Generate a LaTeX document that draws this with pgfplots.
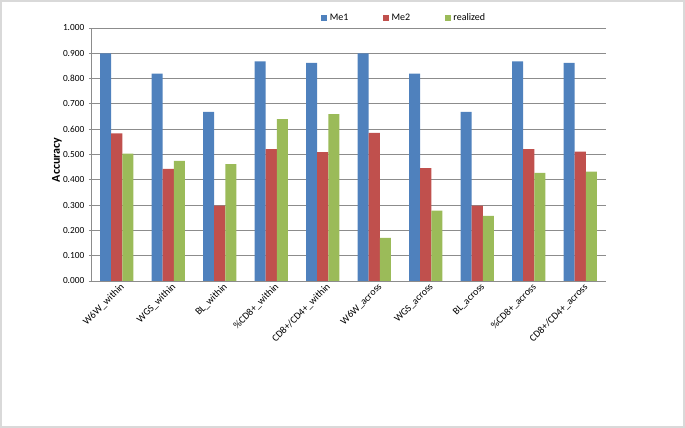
\documentclass[border=0pt]{standalone}
\usepackage{fontspec}
\setmainfont{Carlito}
\usepackage{pgfplots}
\usepackage{pgfplotstable}
\pgfplotsset{compat=1.18}

\definecolor{meone}{HTML}{4F81BD}
\definecolor{metwo}{HTML}{C0504D}
\definecolor{realc}{HTML}{9BBB59}
\definecolor{gridc}{HTML}{8C8C8C}
\definecolor{framec}{HTML}{D9D9D9}

% accuracy per scenario
\pgfplotstableread{
idx me1   me2   real
0   0.900 0.583 0.503
1   0.820 0.443 0.475
2   0.668 0.298 0.462
3   0.868 0.521 0.640
4   0.862 0.509 0.660
5   0.900 0.585 0.170
6   0.820 0.446 0.278
7   0.668 0.298 0.257
8   0.868 0.521 0.427
9   0.862 0.511 0.432
}\acc

\begin{document}
\begin{tikzpicture}
\begin{axis}[
    scale only axis,
    width=386.25pt,
    height=189.75pt,
    ybar,
    bar width=0.215,
    xmin=-0.5, xmax=9.5,
    ymin=0, ymax=1,
    xtick=data,
    xticklabels={W6W\_within, WGS\_within, BL\_within, \%CD8+\_within, CD8+/CD4+\_within,
                 W6W\_across, WGS\_across, BL\_across, \%CD8+\_across, CD8+/CD4+\_across},
    xticklabel style={rotate=45, anchor=east, font=\fontsize{7.5}{8}\selectfont, inner sep=1pt,
                      xshift=3pt, yshift=-4.5pt},
    x tick style={draw=none},
    ytick distance=0.1,
    yticklabel style={font=\fontsize{7}{8}\selectfont, /pgf/number format/.cd, fixed, fixed zerofill, precision=3, assume math mode=true},
    y tick style={gridc, line width=0.6pt},
    tick align=outside,
    major tick length=3pt,
    ymajorgrids,
    grid style={gridc, line width=0.6pt},
    axis lines=left,
    axis line style={-, gridc, line width=0.6pt},
    ylabel={Accuracy},
    ylabel style={font=\fontsize{9}{10}\selectfont\bfseries, at={(axis description cs:-0.066,0.478)}, anchor=center},
    legend columns=3,
    legend style={draw=none, fill=none, at={(0.439,1.04)}, anchor=west, font=\fontsize{7.5}{8}\selectfont,
                  /tikz/every even column/.append style={column sep=24pt}},
    legend image code/.code={\fill[#1] (0pt,-2.2pt) rectangle (4.4pt,2.2pt);},
]
\addplot[fill=meone, draw=none, bar shift=-0.215] table[x=idx, y=me1] {\acc};
\addplot[fill=metwo, draw=none, bar shift=0] table[x=idx, y=me2] {\acc};
\addplot[fill=realc, draw=none, bar shift=0.215] table[x=idx, y=real] {\acc};
\legend{Me1, Me2, realized}
\end{axis}
\draw[framec, line width=1.5pt] (-67.5pt,-109.5pt) rectangle (444.75pt,210pt);
\end{tikzpicture}
\end{document}
